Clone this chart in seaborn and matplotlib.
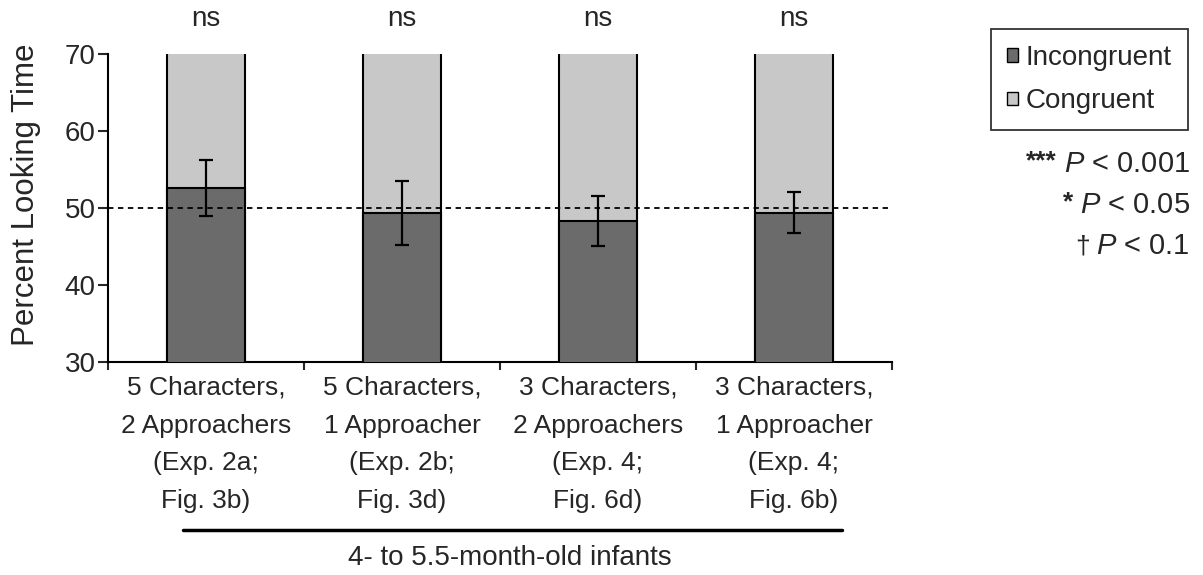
import numpy as np
import pandas as pd
import matplotlib
matplotlib.use("Agg")
import matplotlib.pyplot as plt
from matplotlib.patches import Patch
from matplotlib.lines import Line2D
import seaborn as sns

# ---- data ----
categories = [
    "5 Characters,\n2 Approachers\n(Exp. 2a;\nFig. 3b)",
    "5 Characters,\n1 Approacher\n(Exp. 2b;\nFig. 3d)",
    "3 Characters,\n2 Approachers\n(Exp. 4;\nFig. 6d)",
    "3 Characters,\n1 Approacher\n(Exp. 4;\nFig. 6b)",
]
incongruent = [52.6, 49.4, 48.3, 49.4]
congruent = [47.4, 50.6, 51.7, 50.6]
errors = [3.6, 4.15, 3.2, 2.7]
significance = ["ns", "ns", "ns", "ns"]
yticks = [30, 40, 50, 60, 70]
chance_level = 50
group_label = "4- to 5.5-month-old infants"
pvalue_marks = ["***", "*", "\u2020"]
pvalue_text = ["$P$ < 0.001", "$P$ < 0.05", "$P$ < 0.1"]

sns.set_style("white")
plt.rcParams["font.family"] = ["Liberation Sans", "DejaVu Sans"]
plt.rcParams["mathtext.fontset"] = "custom"
plt.rcParams["mathtext.rm"] = "Liberation Sans"
plt.rcParams["mathtext.it"] = "Liberation Sans:italic"

DARK = "#6b6b6b"
LIGHT = "#c8c8c8"

df = pd.DataFrame({
    "cat": categories,
    "incongruent": incongruent,
    "total": np.array(incongruent) + np.array(congruent),
})

fig = plt.figure(figsize=(12.03, 5.75), dpi=100)
ax = fig.add_axes([108 / 1203, 1 - 362 / 575, 784 / 1203, 308 / 575])

sns.barplot(data=df, x="cat", y="total", color=LIGHT, saturation=1,
            edgecolor="black", linewidth=1.5, width=0.4, ax=ax, zorder=2)
sns.barplot(data=df, x="cat", y="incongruent", color=DARK, saturation=1,
            edgecolor="black", linewidth=1.5, width=0.4, ax=ax, zorder=3)

xpos = np.arange(len(categories))
ax.errorbar(xpos, incongruent, yerr=errors, fmt="none", ecolor="black",
            elinewidth=1.6, capsize=4.8, capthick=1.6, zorder=5)

ax.axhline(chance_level, color="black", linestyle=(0, (3, 2.5)), linewidth=1.3, zorder=4)

ax.set_ylim(30, 70)
ax.set_xlim(-0.5, len(categories) - 0.5)
ax.set_yticks(yticks)
ax.set_yticklabels([str(v) for v in yticks], fontsize=20)
ax.set_xticks(np.arange(len(categories) + 1) - 0.5)
ax.set_xticklabels([""] * (len(categories) + 1))
ax.set_xticks(xpos, minor=True)
ax.set_xticklabels(categories, minor=True, fontsize=19, linespacing=1.72)
ax.tick_params(axis="x", which="minor", length=0, pad=10)
ax.tick_params(axis="x", which="major", length=6, width=1.5, direction="out", bottom=True)
ax.tick_params(axis="y", length=7, width=1.5, direction="out", pad=2, left=True)
ax.set_xlabel("")
ax.set_ylabel("Percent Looking Time", fontsize=22.5)
ax.yaxis.set_label_coords(-0.085, 0.542)

for s in ["top", "right"]:
    ax.spines[s].set_visible(False)
for s in ["left", "bottom"]:
    ax.spines[s].set_color("black")
    ax.spines[s].set_linewidth(1.5)

for i, lab in enumerate(significance):
    ax.text(xpos[i], 1.115, lab, transform=ax.get_xaxis_transform(),
            ha="center", va="center", fontsize=20)

# group bracket line and label
fig.add_artist(Line2D([183 / 1203, 842 / 1203], [1 - 530 / 575, 1 - 530 / 575],
                      color="black", linewidth=2.5))
fig.text(510 / 1203, 1 - 558 / 575, group_label, ha="center", va="center", fontsize=20)

# legend
handles = [Patch(facecolor=DARK, edgecolor="black", linewidth=1.0, label="Incongruent"),
           Patch(facecolor=LIGHT, edgecolor="black", linewidth=1.0, label="Congruent")]
leg = fig.legend(handles=handles, loc="upper left", bbox_to_anchor=(991 / 1203, 1 - 29 / 575),
                 bbox_transform=fig.transFigure, borderaxespad=0, fontsize=20,
                 handlelength=0.38, handleheight=0.38, handletextpad=0.3,
                 labelspacing=0.62, borderpad=0.58, fancybox=False, frameon=True)
leg.get_frame().set_edgecolor("black")
leg.get_frame().set_linewidth(1.3)
leg.get_frame().set_boxstyle("square", pad=0)

fig.canvas.draw()
for j in range(len(pvalue_marks)):
    yy = 1 - (164 + 41 * j) / 575
    t = fig.text(1190 / 1203, yy, pvalue_text[j], ha="right", va="center", fontsize=21)
    bb = t.get_window_extent(renderer=fig.canvas.get_renderer())
    if pvalue_marks[j].startswith("*"):
        fig.text((bb.x0 - 7) / 1203, yy + 3 / 575, pvalue_marks[j], ha="right", va="center",
                 fontsize=19, fontweight="bold")
    else:
        fig.text((bb.x0 - 6) / 1203, yy, pvalue_marks[j], ha="right", va="center",
                 fontsize=19)

fig.savefig("out.png", dpi=100)
